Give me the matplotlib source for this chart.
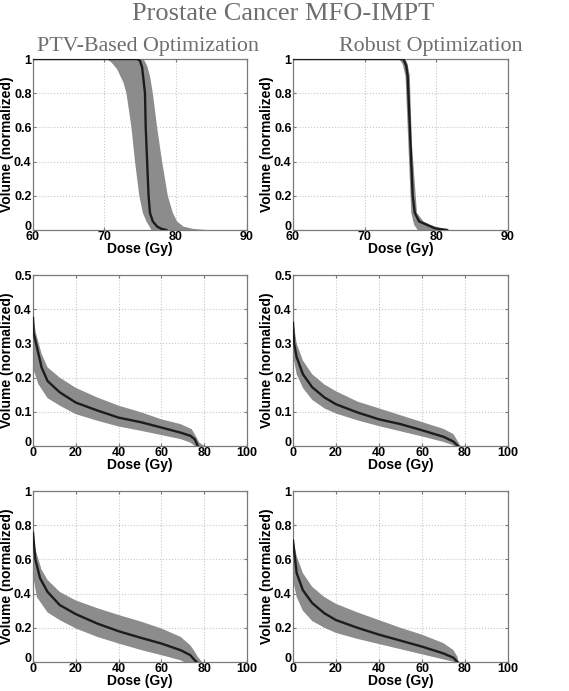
import numpy as np
import matplotlib
matplotlib.use('Agg')
import matplotlib.pyplot as plt
from matplotlib.transforms import ScaledTranslation

# ---- top row: target DVH (dose 60-90 Gy) ----
ptv_tgt_mean_d = [60, 74.6, 75.0, 75.3, 75.7, 75.8, 76.0, 76.2, 76.4, 76.8, 77.4, 78.0, 78.7]
ptv_tgt_mean_v = [1, 1, 0.99, 0.95, 0.8, 0.6, 0.4, 0.2, 0.1, 0.05, 0.02, 0.007, 0]
ptv_tgt_lo_d = [60, 70.3, 71.0, 71.8, 72.7, 73.1, 73.8, 74.3, 74.9, 75.4, 75.9, 76.6]
ptv_tgt_lo_v = [1, 1, 0.98, 0.94, 0.86, 0.8, 0.6, 0.4, 0.2, 0.1, 0.05, 0]
ptv_tgt_hi_d = [60, 75.5, 76.0, 76.4, 76.8, 77.4, 78.1, 78.9, 79.6, 80.2, 81.1, 82.5, 84.3]
ptv_tgt_hi_v = [1, 1, 0.96, 0.9, 0.8, 0.6, 0.4, 0.2, 0.1, 0.05, 0.02, 0.006, 0]

rob_tgt_mean_d = [60, 75.4, 75.8, 76.0, 76.4, 76.7, 77.0, 77.6, 78.7, 79.8, 81.5]
rob_tgt_mean_v = [1, 1, 0.96, 0.9, 0.5, 0.2, 0.1, 0.05, 0.03, 0.01, 0]
rob_tgt_lo_d = [60, 74.8, 75.3, 75.7, 76.1, 76.5, 76.9, 77.4]
rob_tgt_lo_v = [1, 1, 0.97, 0.9, 0.5, 0.1, 0.03, 0]
rob_tgt_hi_d = [60, 75.7, 76.0, 76.3, 76.6, 77.3, 78.2, 79.2, 80.5, 81.8]
rob_tgt_hi_v = [1, 1, 0.97, 0.9, 0.5, 0.1, 0.05, 0.03, 0.01, 0]

# ---- middle row (dose 0-100 Gy, volume 0-0.5) ----
ptv_mid_mean_d = [0, 0.3, 1.8, 4, 6.8, 12.5, 20, 30, 40, 50.8, 60, 69, 73.5, 75.6, 77]
ptv_mid_mean_v = [0.375, 0.33, 0.29, 0.23, 0.19, 0.157, 0.127, 0.104, 0.083, 0.069, 0.054, 0.039, 0.03, 0.02, 0]
ptv_mid_hi_d = [0, 1.4, 4, 6.8, 12.5, 20, 30, 40, 50.8, 60, 69, 74.2, 75.6, 77.7, 80]
ptv_mid_hi_v = [0.38, 0.33, 0.27, 0.23, 0.2, 0.17, 0.142, 0.118, 0.098, 0.078, 0.064, 0.049, 0.034, 0.01, 0]
ptv_mid_lo_d = [0, 0.4, 2.6, 6.8, 12.5, 20, 30, 40, 50.8, 60, 69, 73.5, 75.6]
ptv_mid_lo_v = [0.33, 0.22, 0.18, 0.14, 0.118, 0.093, 0.074, 0.057, 0.044, 0.032, 0.02, 0.01, 0]

rob_mid_mean_d = [0, 0.5, 1.7, 4.6, 8.9, 14.6, 20, 30, 40, 50, 60, 70, 74.6, 76.7]
rob_mid_mean_v = [0.36, 0.3, 0.26, 0.21, 0.172, 0.142, 0.122, 0.098, 0.078, 0.064, 0.046, 0.027, 0.013, 0]
rob_mid_hi_d = [0, 1.7, 4.6, 8.9, 14.6, 20, 30, 40, 50, 60, 70, 74.6, 76.5, 78]
rob_mid_hi_v = [0.37, 0.3, 0.25, 0.21, 0.18, 0.16, 0.13, 0.11, 0.09, 0.07, 0.05, 0.035, 0.015, 0]
rob_mid_lo_d = [0, 0.5, 1.7, 4.6, 8.9, 14.6, 20, 30, 40, 50, 60, 70, 74, 75]
rob_mid_lo_v = [0.32, 0.25, 0.21, 0.17, 0.135, 0.11, 0.095, 0.075, 0.058, 0.043, 0.028, 0.012, 0.003, 0]

# ---- bottom row (dose 0-100 Gy, volume 0-1) ----
ptv_bot_mean_d = [0, 1.1, 3.3, 6.8, 12.5, 20, 30, 40, 50.8, 60, 69, 73.5, 75.6, 76.5]
ptv_bot_mean_v = [0.755, 0.6, 0.49, 0.41, 0.333, 0.28, 0.225, 0.18, 0.14, 0.108, 0.069, 0.04, 0.01, 0]
ptv_bot_hi_d = [0, 1.1, 4, 6.8, 12.5, 20, 30, 40, 50.8, 60, 69, 73.5, 75.6, 77, 79]
ptv_bot_hi_v = [0.76, 0.66, 0.54, 0.48, 0.41, 0.36, 0.315, 0.275, 0.235, 0.196, 0.147, 0.098, 0.06, 0.03, 0]
ptv_bot_lo_d = [0, 0.4, 1.8, 6.8, 12.5, 20, 30, 40, 50.8, 60, 69, 70.6]
ptv_bot_lo_v = [0.68, 0.48, 0.38, 0.29, 0.245, 0.196, 0.147, 0.108, 0.069, 0.04, 0.01, 0]

rob_bot_mean_d = [0, 1.7, 4.6, 8.9, 14.6, 20, 30, 40, 50, 60, 70, 74.6, 76.5]
rob_bot_mean_v = [0.71, 0.52, 0.42, 0.345, 0.285, 0.245, 0.2, 0.16, 0.125, 0.09, 0.05, 0.025, 0]
rob_bot_hi_d = [0, 1.7, 4.6, 8.9, 14.6, 20, 30, 40, 50, 60, 70, 74.6, 76.5, 77]
rob_bot_hi_v = [0.72, 0.62, 0.52, 0.44, 0.38, 0.34, 0.29, 0.245, 0.2, 0.16, 0.11, 0.07, 0.03, 0]
rob_bot_lo_d = [0, 0.5, 1.7, 4.6, 8.9, 14.6, 20, 30, 40, 50, 60, 70, 74, 75]
rob_bot_lo_v = [0.62, 0.45, 0.38, 0.3, 0.24, 0.2, 0.17, 0.135, 0.105, 0.075, 0.045, 0.015, 0.003, 0]

main_title = 'Prostate Cancer MFO-IMPT'
col_titles = ['PTV-Based Optimization', 'Robust Optimization']

W, H = 569, 691
fig = plt.figure(figsize=(W / 100, H / 100), dpi=100)

band_col = '#8c8c8c'
line_col = '#1c1c1c'
tick_font = dict(family='Liberation Sans', weight='bold', size=9)
label_font = dict(family='Liberation Sans', weight='bold', size=10)


def panel(rect, mean, lo, hi, xlim, xticks, ylim, yticks, yticklabels):
    l, t, r, b = rect
    ax = fig.add_axes([l / W, 1 - b / H, (r - l) / W, (b - t) / H])
    bx = np.concatenate([lo[0], hi[0][::-1]])
    by = np.concatenate([lo[1], hi[1][::-1]])
    ax.fill(bx, by, color=band_col, lw=0, zorder=2)
    ax.plot(mean[0], mean[1], color=line_col, lw=1.7, zorder=3)
    ax.set_xlim(xlim)
    ax.set_ylim(ylim)
    ax.set_xticks(xticks)
    ax.set_yticks(yticks)
    ax.set_yticklabels(yticklabels)
    ax.grid(True, color='#c8c8c8', ls=':', lw=0.8, zorder=0)
    ax.set_axisbelow(True)
    for s in ax.spines.values():
        s.set_color('#7a7a7a')
        s.set_linewidth(0.9)
    ax.tick_params(direction='in', length=2.5, color='#7a7a7a', pad=1,
                   top=True, right=True)
    for lab in ax.get_xticklabels() + ax.get_yticklabels():
        lab.set_fontproperties(dict(tick_font))
    # the y "0" is nudged up a little above the x axis line, MATLAB style
    z = ax.get_yticklabels()[0]
    z.set_transform(z.get_transform() + ScaledTranslation(0, 5 / 100, fig.dpi_scale_trans))
    ax.set_xlabel('Dose (Gy)', labelpad=-1, **label_font)
    ax.set_ylabel('Volume (normalized)', **label_font)
    ax.yaxis.set_label_coords(-19 / (r - l), 0.5)
    return ax


cols = [(33, 247), (293, 508)]
rows = [(59, 230), (275, 446), (491, 662)]

top_ticks = [0, 0.2, 0.4, 0.6, 0.8, 1]
top_labels = ['0', '0.2', '0.4', '0.6', '0.8', '1']
mid_ticks = [0, 0.1, 0.2, 0.3, 0.4, 0.5]
mid_labels = ['0', '0.1', '0.2', '0.3', '0.4', '0.5']

data = [
    [((ptv_tgt_mean_d, ptv_tgt_mean_v), (ptv_tgt_lo_d, ptv_tgt_lo_v), (ptv_tgt_hi_d, ptv_tgt_hi_v)),
     ((rob_tgt_mean_d, rob_tgt_mean_v), (rob_tgt_lo_d, rob_tgt_lo_v), (rob_tgt_hi_d, rob_tgt_hi_v))],
    [((ptv_mid_mean_d, ptv_mid_mean_v), (ptv_mid_lo_d, ptv_mid_lo_v), (ptv_mid_hi_d, ptv_mid_hi_v)),
     ((rob_mid_mean_d, rob_mid_mean_v), (rob_mid_lo_d, rob_mid_lo_v), (rob_mid_hi_d, rob_mid_hi_v))],
    [((ptv_bot_mean_d, ptv_bot_mean_v), (ptv_bot_lo_d, ptv_bot_lo_v), (ptv_bot_hi_d, ptv_bot_hi_v)),
     ((rob_bot_mean_d, rob_bot_mean_v), (rob_bot_lo_d, rob_bot_lo_v), (rob_bot_hi_d, rob_bot_hi_v))],
]

for i, (t, b) in enumerate(rows):
    for j, (l, r) in enumerate(cols):
        mean, lo, hi = data[i][j]
        if i == 0:
            panel((l, t, r, b), mean, lo, hi, (60, 90), [60, 70, 80, 90],
                  (0, 1), top_ticks, top_labels)
        elif i == 1:
            panel((l, t, r, b), mean, lo, hi, (0, 100), [0, 20, 40, 60, 80, 100],
                  (0, 0.5), mid_ticks, mid_labels)
        else:
            panel((l, t, r, b), mean, lo, hi, (0, 100), [0, 20, 40, 60, 80, 100],
                  (0, 1), top_ticks, top_labels)

fig.text(283 / W, 1 - 14 / H, main_title, ha='center', va='center',
         family='Liberation Serif', size=19, color='#6e6e6e')
fig.text(148 / W, 1 - 46 / H, col_titles[0], ha='center', va='center',
         family='Liberation Serif', size=15.8, color='#6e6e6e')
fig.text(431 / W, 1 - 46 / H, col_titles[1], ha='center', va='center',
         family='Liberation Serif', size=15.8, color='#6e6e6e')

fig.savefig('out.png', dpi=100)
